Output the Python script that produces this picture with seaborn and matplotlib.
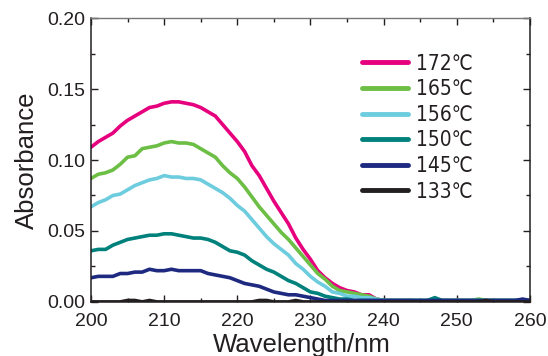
import matplotlib
matplotlib.use("Agg")
import matplotlib.pyplot as plt
from matplotlib.ticker import MultipleLocator
import seaborn as sns
import numpy as np
import pandas as pd

# wavelength axis (nm), one reading per nm
wavelength = list(range(200, 261))

abs_172 = [0.109, 0.113, 0.116, 0.119, 0.124, 0.128, 0.131, 0.134, 0.137, 0.138,
           0.140, 0.141, 0.141, 0.140, 0.139, 0.137, 0.134, 0.131, 0.125, 0.119,
           0.113, 0.106, 0.096, 0.089, 0.080, 0.071, 0.063, 0.055, 0.045, 0.037,
           0.030, 0.022, 0.017, 0.013, 0.010, 0.008, 0.007, 0.005, 0.005, 0.002,
           0.001, 0.001, 0.001, 0.001, 0.001, 0.000, 0.001, 0.001, 0.001, 0.001,
           0.001, 0.001, 0.001, 0.001, 0.001, 0.001, 0.001, 0.001, 0.001, 0.001, 0.001]
abs_165 = [0.087, 0.090, 0.091, 0.093, 0.097, 0.102, 0.103, 0.108, 0.109, 0.110,
           0.112, 0.113, 0.112, 0.112, 0.111, 0.108, 0.105, 0.102, 0.096, 0.091,
           0.087, 0.081, 0.074, 0.067, 0.061, 0.055, 0.049, 0.044, 0.038, 0.032,
           0.026, 0.020, 0.016, 0.011, 0.008, 0.007, 0.006, 0.005, 0.004, 0.002,
           0.001, 0.001, 0.001, 0.001, 0.001, 0.001, 0.001, 0.001, 0.001, 0.001,
           0.001, 0.001, 0.001, 0.002, 0.001, 0.001, 0.001, 0.001, 0.001, 0.001, 0.001]
abs_156 = [0.067, 0.070, 0.072, 0.075, 0.076, 0.079, 0.082, 0.084, 0.086, 0.087,
           0.089, 0.088, 0.088, 0.087, 0.087, 0.086, 0.083, 0.080, 0.077, 0.073,
           0.068, 0.064, 0.058, 0.052, 0.046, 0.041, 0.037, 0.033, 0.027, 0.023,
           0.018, 0.014, 0.011, 0.007, 0.006, 0.004, 0.004, 0.003, 0.003, 0.002,
           0.001, 0.001, 0.001, 0.001, 0.001, 0.001, 0.001, 0.001, 0.001, 0.001,
           0.001, 0.001, 0.001, 0.001, 0.001, 0.001, 0.001, 0.001, 0.001, 0.001, 0.001]
abs_150 = [0.036, 0.037, 0.037, 0.040, 0.042, 0.044, 0.045, 0.046, 0.047, 0.047,
           0.048, 0.048, 0.047, 0.046, 0.045, 0.045, 0.044, 0.042, 0.039, 0.036,
           0.035, 0.033, 0.029, 0.026, 0.023, 0.021, 0.018, 0.015, 0.013, 0.010,
           0.007, 0.006, 0.004, 0.003, 0.002, 0.002, 0.001, 0.001, 0.001, 0.001,
           0.001, 0.001, 0.001, 0.001, 0.001, 0.001, 0.001, 0.003, 0.001, 0.001,
           0.001, 0.001, 0.001, 0.001, 0.001, 0.001, 0.001, 0.001, 0.001, 0.001, 0.001]
abs_145 = [0.017, 0.018, 0.018, 0.018, 0.020, 0.020, 0.021, 0.021, 0.023, 0.022,
           0.022, 0.023, 0.022, 0.022, 0.022, 0.022, 0.020, 0.019, 0.018, 0.017,
           0.015, 0.013, 0.012, 0.011, 0.009, 0.007, 0.006, 0.005, 0.005, 0.004,
           0.003, 0.002, 0.001, 0.001, 0.001, 0.001, 0.001, 0.001, 0.001, 0.001,
           0.001, 0.001, 0.001, 0.001, 0.001, 0.001, 0.001, 0.001, 0.001, 0.001,
           0.001, 0.001, 0.001, 0.001, 0.001, 0.001, 0.001, 0.001, 0.001, 0.002, 0.001]
abs_133 = [0.000, 0.000, 0.000, 0.000, 0.000, 0.001, 0.001, 0.000, 0.001, 0.000,
           0.000, 0.000, 0.000, 0.000, 0.000, 0.000, 0.000, 0.000, 0.000, 0.000,
           0.000, 0.000, 0.000, 0.001, 0.001, 0.000, 0.000, 0.000, 0.001, 0.000,
           0.000, 0.000, 0.000, 0.000, 0.000, 0.000, 0.000, 0.000, 0.000, 0.000,
           0.000, 0.000, 0.000, 0.000, 0.000, 0.000, 0.000, 0.000, 0.000, 0.000,
           0.000, 0.000, 0.000, 0.000, 0.001, 0.000, 0.000, 0.000, 0.000, 0.000, 0.000]

temps = ["172℃", "165℃", "156℃", "150℃", "145℃", "133℃"]
series = [abs_172, abs_165, abs_156, abs_150, abs_145, abs_133]
colors = ["#E6007E", "#6CBE45", "#6DCCDD", "#00817B", "#1D2A80", "#231F20"]

# long-form table for seaborn
df = pd.concat([pd.DataFrame({"Wavelength": wavelength, "Absorbance": s, "Temp": t})
                for t, s in zip(temps, series)], ignore_index=True)

sns.set_style("ticks")
plt.rcParams["font.family"] = ["Liberation Sans", "DejaVu Sans"]

fig = plt.figure(figsize=(5.48, 3.56), dpi=100)
ax = fig.add_axes([0.166, 0.152, 0.801, 0.797])

sns.lineplot(data=df, x="Wavelength", y="Absorbance", hue="Temp",
             hue_order=temps, palette=colors, linewidth=2.6, ax=ax)

ax.set_xlim(200, 260)
ax.set_ylim(0, 0.20)
ax.xaxis.set_major_locator(MultipleLocator(10))
ax.xaxis.set_minor_locator(MultipleLocator(5))
ax.yaxis.set_major_locator(MultipleLocator(0.05))
ax.yaxis.set_minor_locator(MultipleLocator(0.025))
ax.yaxis.set_major_formatter(matplotlib.ticker.FormatStrFormatter("%.2f"))
ax.tick_params(which="both", direction="in", top=True, right=True,
               labelsize=14, colors="#231F20")
ax.tick_params(axis="x", pad=8)
ax.tick_params(axis="y", pad=4)
ax.tick_params(which="major", length=5, width=1)
ax.tick_params(which="minor", length=3, width=1)
for side in ["left", "bottom", "right"]:
    ax.spines[side].set_color("#231F20")
    ax.spines[side].set_linewidth(1.1)
ax.spines["top"].set_color("#777777")
ax.spines["top"].set_linewidth(1.0)

ax.set_xlabel("Wavelength/nm", fontsize=18.5, color="#231F20")
ax.xaxis.set_label_coords(0.48, -0.108)
ax.set_ylabel("Absorbance", fontsize=18.5, color="#231F20", labelpad=6)

handles, labels = ax.get_legend_handles_labels()
for h in handles:
    h.set_linewidth(3.5)
leg = ax.legend(handles, labels, loc="upper left", bbox_to_anchor=(0.617, 0.875),
                frameon=False, handlelength=2.2, handletextpad=0.4,
                labelspacing=0.27, borderaxespad=0, borderpad=0,
                prop={"family": "DejaVu Sans", "stretch": "condensed", "size": 15})
for t in leg.get_texts():
    t.set_color("#231F20")

fig.savefig("out.png", dpi=100)
